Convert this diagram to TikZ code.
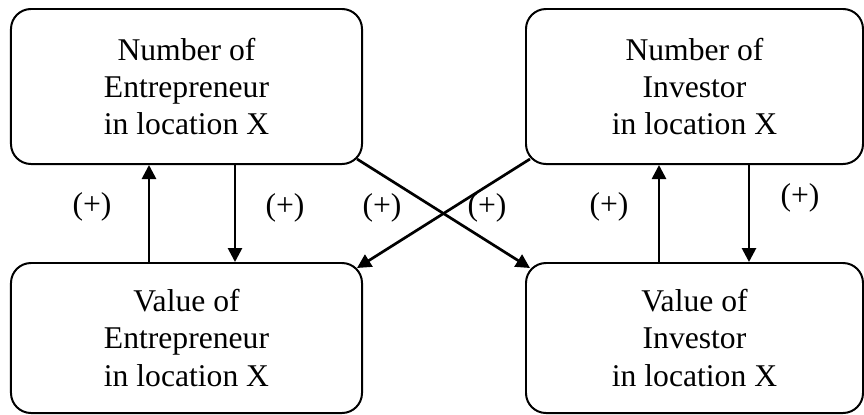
\documentclass[tikz,border=0pt]{standalone}
\usepackage{fontspec}
\setmainfont{Liberation Serif}
\usetikzlibrary{arrows.meta,calc}
\tikzset{
  box/.style={rectangle,rounded corners=0.6cm,draw,line width=1.7pt,align=center,
              font=\fontsize{27}{31.6}\selectfont,inner sep=0pt},
  fl/.style={-{Triangle[length=0.42cm,width=0.42cm]},line width=2.3pt},
  sign/.style={font=\fontsize{27}{31.6}\selectfont,inner sep=0pt},
}
\begin{document}
\begin{tikzpicture}[x=0.03cm,y=-0.03cm]
  \useasboundingbox (0,0) rectangle (864,414);
  % boxes
  \node[box,minimum width=10.53cm,minimum height=4.65cm] (nument) at (186.5,86.5)
    {Number of\\Entrepreneur\\in location X};
  \node[box,minimum width=10.11cm,minimum height=4.65cm] (numinv) at (694.5,86.5)
    {Number of\\Investor\\in location X};
  \node[box,minimum width=10.53cm,minimum height=4.5cm] (valent) at (186.5,338)
    {Value of\\Entrepreneur\\in location X};
  \node[box,minimum width=10.11cm,minimum height=4.5cm] (valinv) at (694.5,338)
    {Value of\\Investor\\in location X};
  % vertical links
  \draw[fl] ($(valent.north)+(-37.5,0)$) -- ($(nument.south)+(-37.5,0)$);
  \draw[fl] ($(nument.south)+(48.5,0)$) -- ($(valent.north)+(48.5,0)$);
  \draw[fl] ($(valinv.north)+(-35.5,0)$) -- ($(numinv.south)+(-35.5,0)$);
  \draw[fl] ($(numinv.south)+(54.5,0)$) -- ($(valinv.north)+(54.5,0)$);
  % cross links
  \draw[fl] ($(nument.south east)+(-6,-6)$) -- ($(valinv.north west)+(5,6)$);
  \draw[fl] ($(numinv.south west)+(5,-6)$) -- ($(valent.north east)+(-6,6)$);
  % signs
  \node[sign] (s1) at (92,207)  {(+)};
  \node[sign] (s2) at (285,208) {(+)};
  \node[sign] (s3) at (382,208) {(+)};
  \node[sign] (s4) at (487,208) {(+)};
  \node[sign] (s5) at (609,207) {(+)};
  \node[sign] (s6) at (800,198) {(+)};
\end{tikzpicture}
\end{document}
